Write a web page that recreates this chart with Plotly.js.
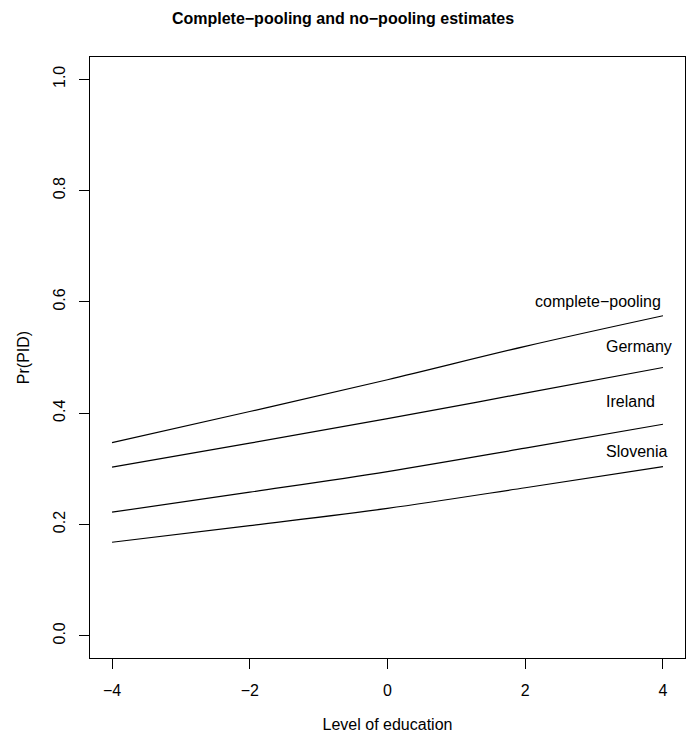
<!DOCTYPE html>
<html>
<head>
<meta charset="utf-8">
<script src="https://cdn.plot.ly/plotly-3.0.1.min.js"></script>
<style>html,body{margin:0;padding:0;background:#fff;}#chart{width:686px;height:740px;}</style>
</head>
<body>
<div id="chart"></div>
<script>
// Level of education (x) at which values were read
const education = [-4, -2, 0, 2, 4];
// Pr(PID)
const completePooling = [0.347, 0.403, 0.460, 0.520, 0.575];
const germany = [0.303, 0.346, 0.390, 0.436, 0.482];
const ireland = [0.222, 0.258, 0.295, 0.337, 0.380];
const slovenia = [0.168, 0.198, 0.229, 0.266, 0.304];
const seriesNames = ["complete\u2212pooling", "Germany", "Ireland", "Slovenia"];
const labelX = [4, 3.14, 3.14, 3.14];
const labelY = [0.601, 0.520, 0.421, 0.331];
const xTicks = [-4, -2, 0, 2, 4];
const yTicks = [0, 0.2, 0.4, 0.6, 0.8, 1.0];
const yTickText = ["0.0", "0.2", "0.4", "0.6", "0.8", "1.0"];

const FONT = "Liberation Sans, Arial, Helvetica, sans-serif";
const allSeries = [completePooling, germany, ireland, slovenia];
const traces = allSeries.map((ys, i) => ({
  x: education, y: ys, type: "scatter", mode: "lines",
  line: {color: "#000", width: 1.2, shape: "spline", smoothing: 1},
  name: seriesNames[i], showlegend: false, hoverinfo: "skip"
}));

const annotations = seriesNames.map((t, i) => ({
  x: labelX[i], y: labelY[i], xref: "x", yref: "y", text: t, showarrow: false,
  xanchor: i === 0 ? "right" : "left", yanchor: "middle",
  font: {family: FONT, size: 16, color: "#000"}
}));

const layout = {
  width: 686, height: 740,
  margin: {l: 90, r: 1, t: 57, b: 82},
  paper_bgcolor: "#fff", plot_bgcolor: "#fff",
  font: {family: FONT, size: 16, color: "#000"},
  title: {text: "<b>Complete\u2212pooling and no\u2212pooling estimates</b>",
    font: {family: FONT, size: 16, color: "#000"}, x: 0.5, xanchor: "center", y: 0.975, yanchor: "middle"},
  xaxis: {
    range: [-4.32, 4.32], tickvals: xTicks, ticks: "outside", ticklen: 10, tickwidth: 1, tickcolor: "#000",
    showline: true, linecolor: "#000", linewidth: 1, mirror: true, showgrid: false, zeroline: false,
    tickfont: {family: FONT, size: 16}, ticklabelstandoff: 8,
    title: {text: "Level of education", font: {family: FONT, size: 16}, standoff: 20}
  },
  yaxis: {
    range: [-0.04, 1.04], tickvals: yTicks, ticktext: yTickText, tickangle: -90,
    ticks: "outside", ticklen: 10, tickwidth: 1, tickcolor: "#000",
    showline: true, linecolor: "#000", linewidth: 1, mirror: true, showgrid: false, zeroline: false,
    tickfont: {family: FONT, size: 16}, ticklabelstandoff: 8,
    title: {text: "Pr(PID)", font: {family: FONT, size: 16}, standoff: 16}
  },
  annotations: annotations
};

Plotly.newPlot("chart", traces, layout, {displayModeBar: false, staticPlot: true});
</script>
</body>
</html>
